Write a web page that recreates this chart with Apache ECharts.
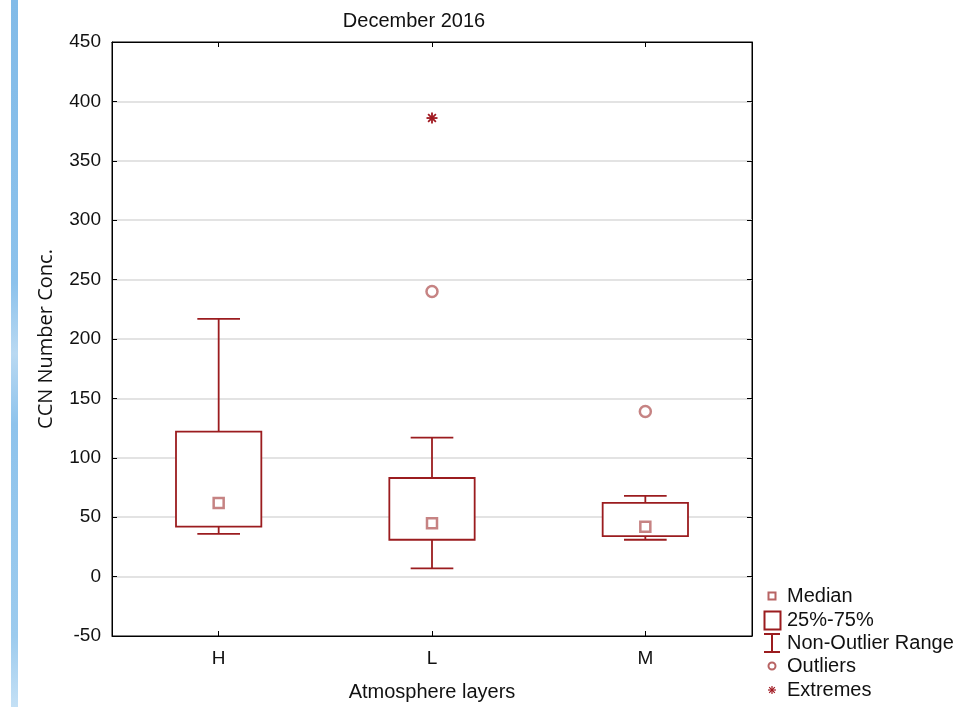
<!DOCTYPE html>
<html>
<head>
<meta charset="utf-8">
<script src="https://cdn.jsdelivr.net/npm/echarts@6/dist/echarts.min.js"></script>
<style>
  html, body { margin: 0; padding: 0; background: #fff; }
  #chart { width: 961px; height: 707px; }
</style>
</head>
<body>
<div id="chart"></div>
<script>
// Box-plot summary of CCN number concentration per atmosphere layer
const categories = ['H', 'L', 'M'];
const whiskerLow = [36, 7, 31];     // non-outlier minimum
const quartile1 = [42, 31, 34];     // 25%
const medians = [62, 45, 42];       // median
const quartile3 = [122, 83, 62];    // 75%
const whiskerHigh = [217, 117, 68]; // non-outlier maximum
const outliers = [[1, 240], [2, 139]];
const extremes = [[1, 386]];
const yTicks = [-50, 0, 50, 100, 150, 200, 250, 300, 350, 400, 450];

const RED = '#9b1c1f';
const SOFT_RED = '#b86464';
const FONT = '"Liberation Sans", Arial, sans-serif';

const boxData = categories.map((c, i) => [i, whiskerLow[i], quartile1[i], quartile3[i], whiskerHigh[i]]);
const medianData = categories.map((c, i) => [i, medians[i]]);

function renderBox(params, api) {
  const i = api.value(0);
  const lo = api.coord([i, api.value(1)]);
  const q1 = api.coord([i, api.value(2)]);
  const q3 = api.coord([i, api.value(3)]);
  const hi = api.coord([i, api.value(4)]);
  const band = api.size([1, 0])[0];
  const bw = band * 0.4;
  const cw = band * 0.2;
  const cx = lo[0];
  const st = { stroke: RED, lineWidth: 1.8, fill: null };
  return {
    type: 'group',
    children: [
      { type: 'line', shape: { x1: cx, y1: q3[1], x2: cx, y2: hi[1] }, style: st },
      { type: 'line', shape: { x1: cx - cw / 2, y1: hi[1], x2: cx + cw / 2, y2: hi[1] }, style: st },
      { type: 'line', shape: { x1: cx, y1: q1[1], x2: cx, y2: lo[1] }, style: st },
      { type: 'line', shape: { x1: cx - cw / 2, y1: lo[1], x2: cx + cw / 2, y2: lo[1] }, style: st },
      { type: 'rect', shape: { x: cx - bw / 2, y: q3[1], width: bw, height: q1[1] - q3[1] },
        style: { stroke: RED, lineWidth: 1.8, fill: '#fff' } }
    ]
  };
}

function asterisk(cx, cy, r, color, lw) {
  const children = [];
  for (let k = 0; k < 4; k++) {
    const a = k * Math.PI / 4;
    children.push({
      type: 'line',
      shape: { x1: cx - r * Math.cos(a), y1: cy - r * Math.sin(a), x2: cx + r * Math.cos(a), y2: cy + r * Math.sin(a) },
      style: { stroke: color, lineWidth: lw }
    });
  }
  return children;
}

function renderExtreme(params, api) {
  const p = api.coord([api.value(0), api.value(1)]);
  return { type: 'group', children: asterisk(p[0], p[1], 5.5, '#a01820', 1.8) };
}

// Legend drawn as plain shapes next to the plot
const LX = 772;
const legendText = (y, txt) => ({
  type: 'text', left: 787, top: y - 11,
  style: { text: txt, font: '20px ' + FONT, fill: '#111' }
});
const legendGraphics = [
  { type: 'rect', shape: { x: LX - 3.5, y: 592.5, width: 7, height: 7 }, style: { stroke: SOFT_RED, lineWidth: 2, fill: '#fff' } },
  legendText(597, 'Median'),
  { type: 'rect', shape: { x: 764.5, y: 611.5, width: 16, height: 18 }, style: { stroke: RED, lineWidth: 2, fill: '#fff' } },
  legendText(621, '25%-75%'),
  { type: 'line', shape: { x1: LX, y1: 634, x2: LX, y2: 652 }, style: { stroke: RED, lineWidth: 2 } },
  { type: 'line', shape: { x1: 764, y1: 634, x2: 780, y2: 634 }, style: { stroke: RED, lineWidth: 2 } },
  { type: 'line', shape: { x1: 764, y1: 652, x2: 780, y2: 652 }, style: { stroke: RED, lineWidth: 2 } },
  legendText(644, 'Non-Outlier Range'),
  { type: 'circle', shape: { cx: LX, cy: 666, r: 3.5 }, style: { stroke: SOFT_RED, lineWidth: 2, fill: '#fff' } },
  legendText(667, 'Outliers'),
  { type: 'group', children: asterisk(LX, 690, 4, '#a01820', 1.2) },
  legendText(691, 'Extremes'),
  // blue strip along the left edge
  { type: 'rect', shape: { x: 11, y: 0, width: 7, height: 707 },
    style: { fill: new echarts.graphic.LinearGradient(0, 0, 0, 1, [
      { offset: 0, color: '#82bbe8' }, { offset: 0.4, color: '#8cc2ec' },
      { offset: 0.5, color: '#b9d9f2' }, { offset: 0.6, color: '#8ec3ec' },
      { offset: 0.9, color: '#9ccbee' }, { offset: 1, color: '#c4e0f5' }]) } }
];

const chart = echarts.init(document.getElementById('chart'), null, { renderer: 'canvas' });
chart.setOption({
  backgroundColor: '#fff',
  animation: false,
  title: {
    text: 'December 2016', left: 409, top: 6, textAlign: 'center',
    textStyle: { fontFamily: FONT, fontSize: 20, fontWeight: 'normal', color: '#111' }
  },
  grid: { left: 112, right: 209, top: 42, bottom: 71, show: true, borderColor: '#000', borderWidth: 1 },
  xAxis: [{
    type: 'category', data: categories, boundaryGap: true, position: 'bottom',
    name: 'Atmosphere layers', nameLocation: 'middle', nameGap: 46,
    nameTextStyle: { fontFamily: FONT, fontSize: 20, color: '#111' },
    axisLine: { onZero: false, lineStyle: { color: '#000', width: 1 } },
    axisTick: { show: true, inside: true, alignWithLabel: true, length: 5, lineStyle: { color: '#000' } },
    axisLabel: { fontFamily: FONT, fontSize: 19, color: '#111', margin: 13 },
    splitLine: { show: false }
  }, {
    type: 'category', data: categories, position: 'top', boundaryGap: true,
    axisLine: { onZero: false, lineStyle: { color: '#000', width: 1 } },
    axisTick: { show: true, inside: true, alignWithLabel: true, length: 5, lineStyle: { color: '#000' } },
    axisLabel: { show: false }, splitLine: { show: false }
  }],
  yAxis: [{
    type: 'value', min: -50, max: 450, interval: 50,
    name: 'CCN Number Conc.', nameLocation: 'middle', nameGap: 56, nameRotate: 90,
    nameTextStyle: { fontFamily: '"Open Sans", sans-serif', fontSize: 20, color: '#111' },
    axisLine: { show: true, onZero: false, lineStyle: { color: '#000', width: 1 } },
    axisTick: { show: true, inside: true, length: 5, lineStyle: { color: '#000' } },
    axisLabel: {
      fontFamily: FONT, fontSize: 19, color: '#111', margin: 11,
      formatter: v => (yTicks.indexOf(v) >= 0 ? String(v) : '')
    },
    splitLine: { show: true, showMinLine: false, showMaxLine: false, lineStyle: { color: '#dadada', width: 1.5 } }
  }, {
    type: 'value', min: -50, max: 450, interval: 50, position: 'right',
    axisLine: { show: true, onZero: false, lineStyle: { color: '#000', width: 1 } },
    axisTick: { show: true, inside: true, length: 5, lineStyle: { color: '#000' } },
    axisLabel: { show: false }, splitLine: { show: false }
  }],
  series: [
    {
      name: '25%-75%', type: 'custom', renderItem: renderBox, data: boxData,
      encode: { x: 0, y: [1, 2, 3, 4] }, z: 3
    },
    {
      name: 'Median', type: 'scatter', data: medianData, symbol: 'rect', symbolSize: 10,
      itemStyle: { color: '#fff', borderColor: SOFT_RED, borderWidth: 2.5 }, z: 5
    },
    {
      name: 'Outliers', type: 'scatter', data: outliers, symbol: 'circle', symbolSize: 11,
      itemStyle: { color: '#fff', borderColor: SOFT_RED, borderWidth: 2.5 }, z: 5
    },
    {
      name: 'Extremes', type: 'custom', renderItem: renderExtreme, data: extremes,
      encode: { x: 0, y: 1 }, z: 5
    }
  ],
  graphic: legendGraphics
});
</script>
</body>
</html>
